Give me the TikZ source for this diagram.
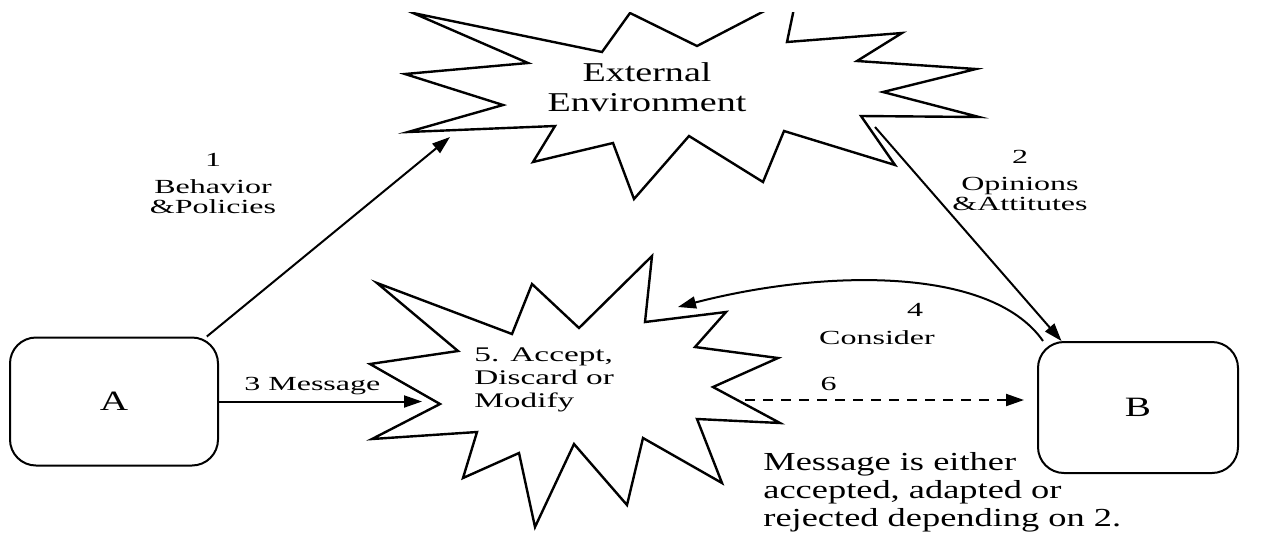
\documentclass[tikz,border=0pt]{standalone}
\usepackage{fontspec}
\setmainfont[FakeStretch=1.6]{Liberation Serif}
\newfontfamily\tallfont[FakeStretch=1.4]{Liberation Serif}
\usetikzlibrary{arrows.meta,positioning,calc}
\tikzset{
  party/.style={draw, line width=1pt, rounded corners=13pt, minimum width=104pt,
                minimum height=64pt, inner sep=0pt, font=\tallfont\fontsize{14}{16}\selectfont},
  burst/.style={draw, line width=1.2pt, line join=miter},
  lbl/.style={align=center, inner sep=0pt, font=\fontsize{10}{10}\selectfont},
  link/.style={-{Triangle[length=9pt,width=6pt]}, line width=1pt},
  dlink/.style={link, dash pattern=on 5pt off 4pt}
}

\begin{document}
\begin{tikzpicture}[x=0.5pt,y=-0.5pt]
  \useasboundingbox (0,0) rectangle (1267,537);

  % external environment (cut at the top)
  \begin{scope}
    \clip (0,12) rectangle (1267,537);
    \draw[burst] (413,13) -- (602,52) -- (630,13) -- (697,46) -- (797,-6) -- (787,42)
      -- (902,33) -- (857,61) -- (976,69) -- (883,92) -- (979,117) -- (861,116)
      -- (895,165) -- (784,131) -- (763,182) -- (689,136) -- (634,199) -- (613,143)
      -- (533,162) -- (555,126) -- (408,132) -- (503,105) -- (405,74) -- (528,63) -- cycle;
  \end{scope}
  \node[align=center, inner sep=0pt, font=\tallfont\fontsize{13.6}{15}\selectfont] (env)
    at (647,87) {External\\Environment};

  % decision burst
  \draw[burst] (377,283) -- (512,334) -- (532,284) -- (579,328) -- (652,256) -- (645,322)
    -- (726,312) -- (695,347) -- (778,358) -- (713,387) -- (780,423) -- (697,419)
    -- (722,483) -- (643,438) -- (627,505) -- (574,444) -- (535,527) -- (519,453)
    -- (463,478) -- (477,432) -- (372,439) -- (440,404) -- (370,364) -- (458,351) -- cycle;
  \node[align=left, anchor=west, inner sep=0pt, font=\fontsize{10.4}{11.5}\selectfont] (dec)
    at (474,380) {5. Accept,\\Discard or\\Modify};

  % parties
  \node[party] (A) at (114,401.5) {A};
  \node[party, minimum width=100pt, minimum height=65.5pt] (B) at (1138,407.5) {B};

  \coordinate (envin) at (450,137);
  \coordinate (envout) at (875,127);
  \coordinate (msgin) at (422,401.5);
  \coordinate (decin) at (678,307);
  \coordinate (decout) at (745,400);

  \draw[link] (A.35) -- (envin);
  \node[lbl] (beh) at (213,183) {1\\[3.5pt]Behavior\\\&Policies};

  \draw[link] (envout) -- (B.139);
  \node[lbl] (opi) at (1020,180) {2\\[3.5pt]Opinions\\\&Attitutes};

  \draw[link] (A.east) -- node[lbl, above=3pt, pos=0.46] {3 Message} (msgin);

  \draw[link] (B.145) .. controls (990,265) and (820,270) .. (decin);
  \node[lbl] (con) at (877,324) {\hspace*{38pt}4\\[4pt]Consider};

  \draw[dlink] (decout) -- node[lbl, above=4pt, pos=0.3] {6} ([xshift=-6.5pt]decout -| B.west);

  \node[align=left, anchor=north west, inner sep=0pt, font=\tallfont\fontsize{13}{14}\selectfont] (note)
    at (763,452) {Message is either\\accepted, adapted or\\rejected depending on 2.};
\end{tikzpicture}
\end{document}
